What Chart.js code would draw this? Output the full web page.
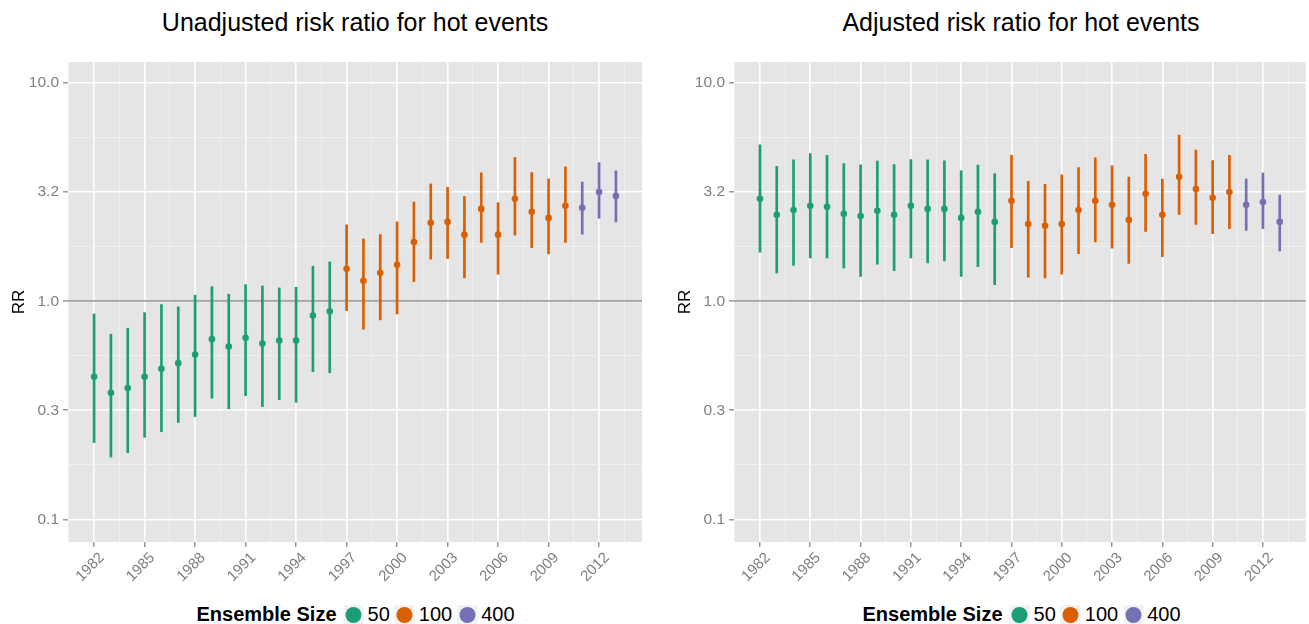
<!DOCTYPE html>
<html lang="en">
<head>
    <meta charset="UTF-8">
    <title>Risk ratio for hot events</title>
    <script src="https://cdn.jsdelivr.net/npm/chart.js"></script>
    <style>
        body { margin: 0; background: white; width: 1309px; height: 624px; overflow: hidden; position: relative; font-family: "Liberation Sans", Arial, sans-serif; }
        canvas { position: absolute; top: 0; }
        .title { position: absolute; top: 8px; transform: translateX(-50%); font-size: 25px; color: #000; white-space: nowrap; }
        .legend { position: absolute; top: 603px; transform: translateX(-50%); font-size: 20px; color: #000; white-space: nowrap; display: flex; align-items: center; }
        .legend b { margin-right: 7px; }
        .key { width: 20px; height: 20px; background: #f2f2f2; display: inline-flex; align-items: center; justify-content: center; margin-right: 4px; }
        .key span { width: 16px; height: 16px; border-radius: 50%; display: block; }
        .lab { margin-right: 5px; }
    </style>
</head>
<body>
    <div class="title" style="left: 355px;">Unadjusted risk ratio for hot events</div>
    <div class="title" style="left: 1021px;">Adjusted risk ratio for hot events</div>
    <canvas id="graficoUnadj" width="654" height="600" style="left: 0px;"></canvas>
    <canvas id="graficoAdj" width="643" height="600" style="left: 666px;"></canvas>
    <div class="legend" id="legendaUnadj" style="left: 358px;"></div>
    <div class="legend" id="legendaAdj" style="left: 1024px;"></div>

<script>
    const years = [1982, 1983, 1984, 1985, 1986, 1987, 1988, 1989, 1990, 1991, 1992, 1993, 1994, 1995, 1996,
        1997, 1998, 1999, 2000, 2001, 2002, 2003, 2004, 2005, 2006, 2007, 2008, 2009, 2010, 2011, 2012, 2013];
    const ensembleSize = [50, 50, 50, 50, 50, 50, 50, 50, 50, 50, 50, 50, 50, 50, 50,
        100, 100, 100, 100, 100, 100, 100, 100, 100, 100, 100, 100, 100, 100, 400, 400, 400];

    // unadjusted risk ratio + interval
    const unadjRR = [0.45, 0.38, 0.40, 0.45, 0.49, 0.52, 0.57, 0.67, 0.62, 0.68, 0.64, 0.66, 0.66, 0.86, 0.90,
        1.41, 1.24, 1.35, 1.47, 1.87, 2.29, 2.31, 2.02, 2.65, 2.02, 2.95, 2.57, 2.41, 2.74, 2.68, 3.17, 3.04];
    const unadjLo = [0.225, 0.193, 0.202, 0.238, 0.252, 0.278, 0.296, 0.359, 0.321, 0.369, 0.329, 0.354, 0.344, 0.475, 0.470,
        0.906, 0.744, 0.821, 0.874, 1.23, 1.56, 1.57, 1.28, 1.86, 1.33, 2.01, 1.76, 1.65, 1.86, 2.03, 2.40, 2.31];
    const unadjHi = [0.874, 0.706, 0.752, 0.886, 0.965, 0.942, 1.065, 1.167, 1.077, 1.192, 1.175, 1.151, 1.159, 1.447, 1.515,
        2.24, 1.93, 2.02, 2.31, 2.85, 3.45, 3.33, 3.02, 3.88, 2.83, 4.56, 3.89, 3.64, 4.13, 3.52, 4.32, 3.96];

    // adjusted risk ratio + interval
    const adjRR = [2.95, 2.49, 2.62, 2.74, 2.71, 2.52, 2.46, 2.60, 2.49, 2.74, 2.65, 2.65, 2.41, 2.57, 2.31,
        2.89, 2.26, 2.22, 2.26, 2.62, 2.89, 2.77, 2.36, 3.11, 2.49, 3.72, 3.27, 2.98, 3.17, 2.77, 2.85, 2.31];
    const adjLo = [1.68, 1.35, 1.46, 1.58, 1.58, 1.42, 1.30, 1.48, 1.38, 1.58, 1.50, 1.53, 1.30, 1.44, 1.19,
        1.76, 1.29, 1.28, 1.33, 1.65, 1.87, 1.75, 1.49, 2.09, 1.60, 2.50, 2.25, 2.04, 2.15, 2.11, 2.15, 1.70];
    const adjHi = [5.21, 4.15, 4.45, 4.75, 4.67, 4.28, 4.22, 4.39, 4.23, 4.46, 4.45, 4.40, 3.96, 4.21, 3.85,
        4.67, 3.55, 3.44, 3.80, 4.10, 4.54, 4.18, 3.71, 4.72, 3.63, 5.78, 4.93, 4.42, 4.67, 3.63, 3.87, 3.07];

    const xTickYears = [1982, 1985, 1988, 1991, 1994, 1997, 2000, 2003, 2006, 2009, 2012];
    const yTickValues = [0.1, 0.3162, 1, 3.162, 10];
    const yTickLabels = ['0.1', '0.3', '1.0', '3.2', '10.0'];
    const sizeLevels = [50, 100, 400];

    const corPorTamanho = { 50: '#1B9E77', 100: '#D95F02', 400: '#7570B3' };
    const cores = ensembleSize.map(s => corPorTamanho[s]);

    // gray panel background like ggplot
    const fundoPainel = {
        id: 'fundoPainel',
        beforeDraw(chart) {
            const a = chart.chartArea;
            const ctx = chart.ctx;
            ctx.save();
            ctx.fillStyle = '#E5E5E5';
            ctx.fillRect(a.left, a.top, a.right - a.left, a.bottom - a.top);
            ctx.restore();
        }
    };

    function criarGrafico(id, rr, lo, hi, padRight) {
        const ctx = document.getElementById(id).getContext('2d');
        // minor ticks go between the major ones
        const xTicks = [];
        xTickYears.forEach(y => { xTicks.push(y - 1.5); xTicks.push(y); });
        xTicks.push(2013.5);
        const yTicks = [];
        yTickValues.forEach((v, i) => {
            yTicks.push(v);
            if (i < yTickValues.length - 1) yTicks.push(Math.sqrt(v * yTickValues[i + 1]));
        });
        yTicks.unshift(Math.sqrt(0.1 * 0.3162) / 1.0);

        return new Chart(ctx, {
            type: 'scatter',
            data: {
                datasets: [{
                    type: 'scatter',
                    data: years.map((y, i) => ({ x: y, y: rr[i] })),
                    pointBackgroundColor: cores,
                    pointBorderWidth: 0,
                    pointRadius: 3.3,
                    pointHoverRadius: 3.3
                }, {
                    type: 'bar',
                    data: years.map((y, i) => ({ x: y, y: [lo[i], hi[i]] })),
                    backgroundColor: cores,
                    borderWidth: 0,
                    barThickness: 2,
                    maxBarThickness: 2
                }]
            },
            options: {
                responsive: false,
                animation: false,
                layout: { padding: { top: 62, right: padRight, left: 0, bottom: 0 } },
                plugins: { legend: { display: false }, tooltip: { enabled: false } },
                scales: {
                    x: {
                        type: 'linear',
                        min: 1980.45,
                        max: 2014.55,
                        offset: false,
                        afterBuildTicks: s => { s.ticks = xTicks.map(v => ({ value: v })); },
                        afterFit: s => { s.height = 58; },
                        border: { display: false },
                        grid: {
                            offset: false,
                            tickLength: 5,
                            color: c => xTickYears.includes(c.tick.value) ? '#FFFFFF' : '#F2F2F2',
                            lineWidth: c => xTickYears.includes(c.tick.value) ? 1.6 : 0.8,
                            tickColor: c => xTickYears.includes(c.tick.value) ? '#7F7F7F' : 'rgba(0,0,0,0)',
                            tickWidth: 1.2
                        },
                        ticks: {
                            autoSkip: false,
                            minRotation: 45,
                            maxRotation: 45,
                            padding: 2,
                            labelOffset: 8,
                            color: '#7F7F7F',
                            font: { family: 'Liberation Sans', size: 15 },
                            callback: v => xTickYears.includes(v) ? String(v) : ''
                        }
                    },
                    y: {
                        type: 'logarithmic',
                        min: 0.0787,
                        max: 12.5,
                        afterBuildTicks: s => { s.ticks = yTicks.map(v => ({ value: v })); },
                        afterFit: s => { s.width = 68; },
                        border: { display: false },
                        title: {
                            display: true,
                            text: 'RR',
                            color: '#000',
                            font: { family: 'Liberation Sans', size: 17 },
                            padding: { top: 9, bottom: 0 }
                        },
                        grid: {
                            tickLength: 5,
                            color: c => c.tick.value === 1 ? '#A3A3A3' : (yTickValues.includes(c.tick.value) ? '#FFFFFF' : '#F2F2F2'),
                            lineWidth: c => c.tick.value === 1 ? 1.8 : (yTickValues.includes(c.tick.value) ? 1.6 : 0.8),
                            tickColor: c => yTickValues.includes(c.tick.value) ? '#7F7F7F' : 'rgba(0,0,0,0)',
                            tickWidth: 1.2
                        },
                        ticks: {
                            padding: 4,
                            color: '#7F7F7F',
                            font: { family: 'Liberation Sans', size: 15.5 },
                            callback: v => {
                                const i = yTickValues.indexOf(v);
                                return i >= 0 ? yTickLabels[i] : '';
                            }
                        }
                    }
                }
            },
            plugins: [fundoPainel]
        });
    }

    function montarLegenda(id) {
        let html = '<b>Ensemble Size</b>';
        sizeLevels.forEach(s => {
            html += `<span class="key"><span style="background:${corPorTamanho[s]}"></span></span><span class="lab">${s}</span>`;
        });
        document.getElementById(id).innerHTML = html;
    }

    criarGrafico('graficoUnadj', unadjRR, unadjLo, unadjHi, 12);
    criarGrafico('graficoAdj', adjRR, adjLo, adjHi, 1);
    montarLegenda('legendaUnadj');
    montarLegenda('legendaAdj');
</script>
</body>
</html>
